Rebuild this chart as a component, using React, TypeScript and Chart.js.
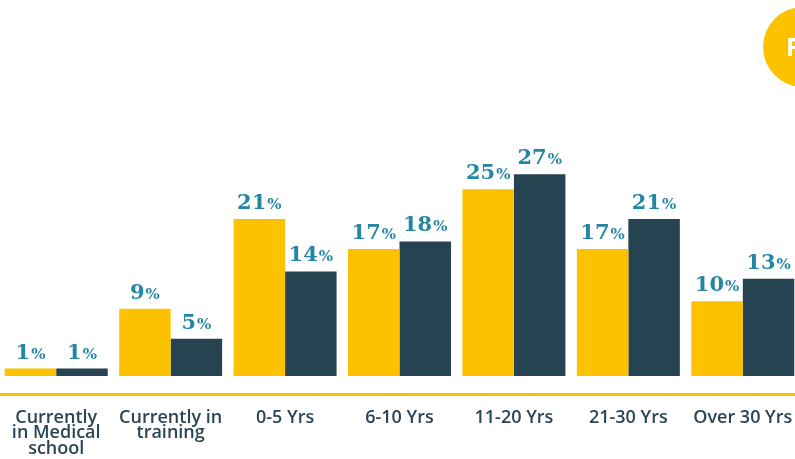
import React, { useEffect, useRef } from "react";
import { Chart, registerables } from "chart.js";

Chart.register(...registerables);

const categories: (string | string[])[] = [
  ["Currently", "in Medical", "school"],
  ["Currently in", "training"],
  "0-5 Yrs",
  "6-10 Yrs",
  "11-20 Yrs",
  "21-30 Yrs",
  "Over 30 Yrs",
];
const seriesYellow = [1, 9, 21, 17, 25, 17, 10];
const seriesDark = [1, 5, 14, 18, 27, 21, 13];
const badgeText = "F";

const YELLOW = "#FCC200";
const DARK = "#264352";
const TEAL = "#2486A4";
const LABEL = "#2B4554";

const valueLabels = {
  id: "valueLabels",
  afterDatasetsDraw(chart: any) {
    const ctx = chart.ctx;
    ctx.save();
    chart.data.datasets.forEach((ds: any, di: number) => {
      const meta = chart.getDatasetMeta(di);
      meta.data.forEach((el: any, i: number) => {
        const v = ds.data[i];
        const num = String(v);
        const pct = "%";
        ctx.font = "bold 21px 'DejaVu Serif'";
        const wn = ctx.measureText(num).width;
        ctx.font = "bold 15px 'DejaVu Serif'";
        const wp = ctx.measureText(pct).width;
        const total = wn + wp + 1;
        const x0 = el.x - total / 2;
        const yb = el.y - 10;
        ctx.fillStyle = TEAL;
        ctx.textAlign = "left";
        ctx.textBaseline = "alphabetic";
        ctx.font = "bold 21px 'DejaVu Serif'";
        ctx.fillText(num, x0, yb);
        ctx.font = "bold 15px 'DejaVu Serif'";
        ctx.fillText(pct, x0 + wn + 1, yb);
      });
    });
    ctx.restore();
  },
};

const badge = {
  id: "badge",
  afterDraw(chart: any) {
    const ctx = chart.ctx;
    ctx.save();
    ctx.fillStyle = YELLOW;
    ctx.beginPath();
    ctx.arc(805, 47, 40, 0, Math.PI * 2);
    ctx.fill();
    ctx.fillStyle = "#ffffff";
    ctx.font = "bold 25px 'Open Sans'";
    ctx.textAlign = "left";
    ctx.textBaseline = "alphabetic";
    ctx.fillText(badgeText, 788, 56);
    ctx.restore();
  },
};

export default function App() {
  const ref = useRef<HTMLCanvasElement>(null);
  useEffect(() => {
    document.body.style.margin = "0";
    document.body.style.overflow = "hidden";
    document.documentElement.style.overflow = "hidden";
    const chart = new Chart(ref.current!, {
      type: "bar",
      data: {
        labels: categories,
        datasets: [
          { data: seriesYellow, backgroundColor: YELLOW, borderWidth: 0 },
          { data: seriesDark, backgroundColor: DARK, borderWidth: 0 },
        ],
      },
      options: {
        animation: false,
        responsive: false,
        devicePixelRatio: 1,
        layout: { padding: { left: 1, right: 1, top: 0, bottom: 0 } },
        plugins: { legend: { display: false }, tooltip: { enabled: false } },
        datasets: { bar: { categoryPercentage: 0.9, barPercentage: 1.0 } },
        scales: {
          x: {
            grid: { display: false, drawTicks: false },
            border: { display: true, color: YELLOW, width: 3 },
            ticks: {
              autoSkip: false,
              maxRotation: 0,
              minRotation: 0,
              padding: 16,
              color: LABEL,
              font: { family: "'Open Sans'", size: 18, weight: "600", lineHeight: 0.86 },
            },
            afterFit: (scale: any) => {
              scale.height = 65;
              scale.paddingLeft = 0;
              scale.paddingRight = 0;
            },
          },
          y: { display: false, min: -2.4, max: 50.3 },
        },
      },
      plugins: [valueLabels, badge],
    });
    return () => chart.destroy();
  }, []);
  return (
    <div style={{ position: "absolute", left: 0, top: 0, width: 795, height: 459, overflow: "hidden", background: "#fff" }}>
      <canvas ref={ref} width={803} height={459} style={{ position: "absolute", left: -2, top: 0, width: 803, height: 459, display: "block" }} />
    </div>
  );
}
